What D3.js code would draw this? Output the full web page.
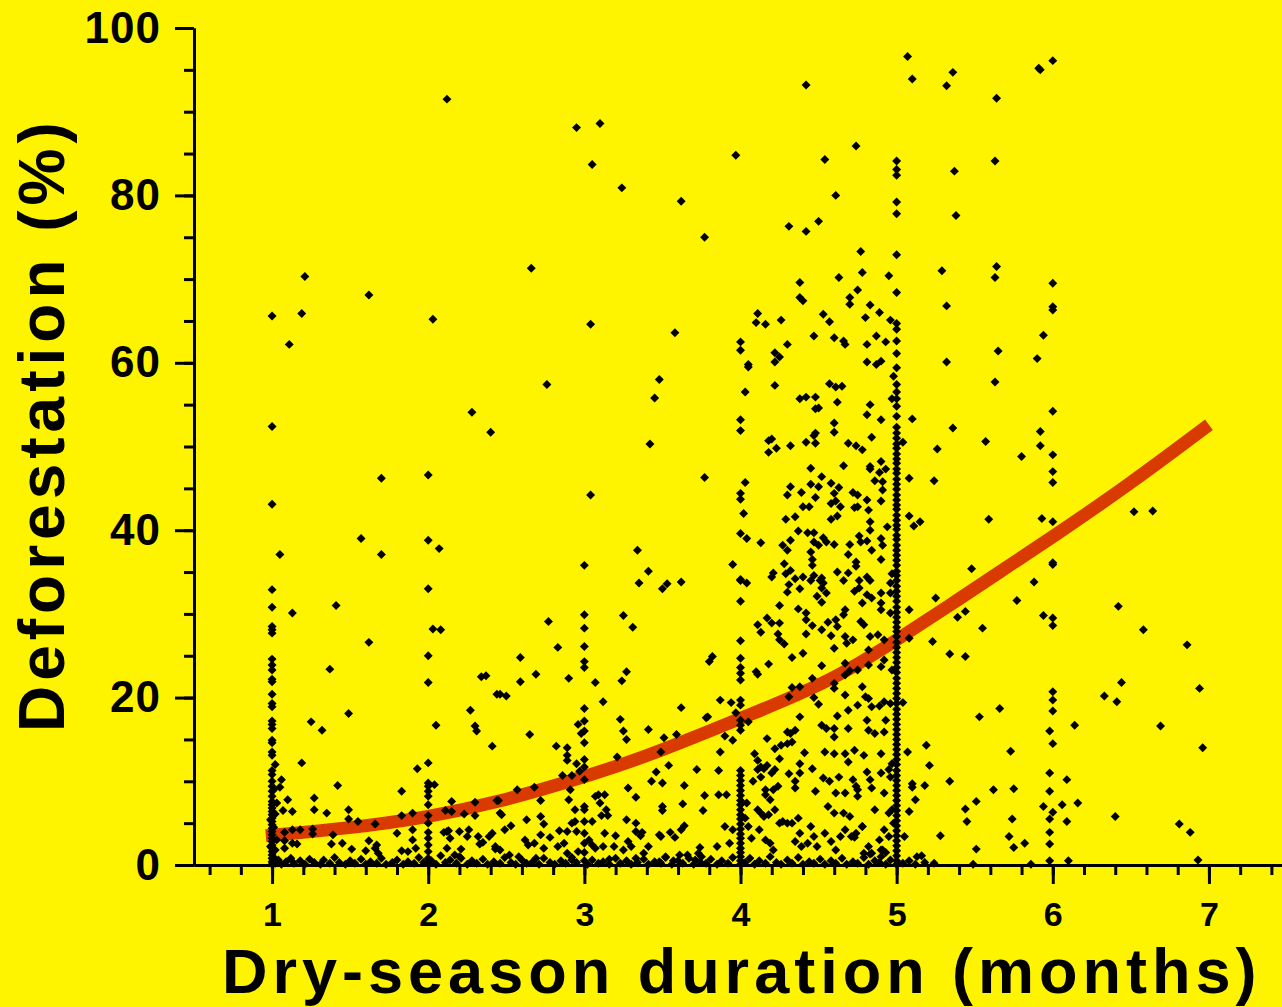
<!DOCTYPE html>
<html>
<head>
<meta charset="utf-8">
<script src="https://cdn.jsdelivr.net/npm/d3@7"></script>
<style>
  body { margin: 0; background: #fff400; }
  svg { display: block; font-family: 'Liberation Sans', Arial, sans-serif; font-weight: bold; }
  .line-path { fill: none; stroke: #d83a00; stroke-width: 13; stroke-linecap: butt; }
</style>
</head>
<body>
<svg width="1282" height="1007"></svg>
<script>
// tick labels
const xTickValues = [1, 2, 3, 4, 5, 6, 7];
const yTickValues = [0, 20, 40, 60, 80, 100];

// points that sit on whole-month columns (y values only)
const col1Y = [65.6, 52.4, 43.1, 32.9, 30.8, 28.5, 28.1, 27.7, 24.6, 23.9, 23.3, 22.2, 21.9, 20.4, 19.3, 18.9, 17.2, 16.8, 16.3, 14.9, 14.6, 13.5, 13.1, 11.3, 10.8, 10.0, 9.4, 8.8, 8.2, 7.6, 7.2, 6.8, 6.4, 6.0, 5.6, 5.2, 4.8, 4.4, 4.0, 3.6, 3.2, 2.8, 2.4, 2.0, 1.6, 1.2, 0.8, 0.4, 0.1];
const col2Y = [46.6, 38.8, 33.0, 25.0, 21.8, 12.2, 9.8, 9.4, 8.8, 8.2, 7.2, 5.9, 5.0, 3.9, 3.2, 2.4, 1.6, 0.8, 0.2];
const col3Y = [35.8, 29.9, 28.3, 26.1, 24.3, 23.6, 18.7, 17.2, 16.0, 14.6, 12.6, 11.7, 10.2, 7.0, 6.6, 5.2, 3.8, 2.6, 1.5, 0.5];
const col4Y = [62.5, 61.5, 53.2, 51.9, 44.4, 43.7, 39.6, 34.1, 34.0, 31.5, 26.8, 24.7, 23.6, 22.9, 22.1, 19.7, 19.1, 17.3, 16.7, 16.1, 11.3, 10.7, 10.1, 9.5, 8.9, 8.3, 7.7, 7.2, 6.6, 6.0, 5.5, 4.9, 4.3, 3.7, 3.2, 2.6, 2.0, 1.5, 1.0, 0.5, 0.1];
const col5Y = [84.1, 83.1, 82.4, 79.2, 77.8, 72.9, 68.4, 64.7, 64.0, 62.6, 61.1, 59.4, 57.4, 56.5, 55.7, 54.8, 53.6, 52.3,
  51.6, 51.0, 50.3, 49.8, 49.1, 48.5, 48.0, 47.3, 46.8, 46.1, 45.5, 44.9, 44.2, 43.6, 43.0, 42.5, 41.8, 41.2, 40.6, 40.1,
  39.4, 38.9, 38.2, 37.6, 37.0, 36.4, 35.8, 35.1, 34.6, 34.0, 33.3, 32.7, 32.1, 31.5, 30.8, 30.2, 29.6, 29.0, 28.4, 27.9,
  27.3, 26.6, 26.0, 25.4, 24.8, 24.2, 23.6, 23.0, 22.3, 21.7, 21.1, 20.5, 19.9, 19.3, 18.6, 18.0, 17.4, 16.8, 16.2, 15.6,
  15.0, 14.4, 13.8, 13.2, 12.6, 12.0, 11.3, 10.7, 10.1, 9.5, 8.9, 8.3, 7.7, 7.1, 6.5, 5.9, 5.3, 4.7, 4.1, 3.5, 2.9, 2.3,
  1.7, 1.1, 0.5, 0.1];
const col6Y = [96.1, 69.5, 66.7, 66.3, 54.2, 49.0, 47.0, 45.7, 41.0, 36.1, 35.9, 29.5, 28.6, 20.7, 19.7, 18.4, 14.5, 6.3];

// scattered points [months, %]
const scatterPts = [
  [2.12,91.5],[2.95,88.1],[3.10,88.6],[3.05,83.7],[3.24,80.9],[3.62,79.3],[3.77,75.0],[2.66,71.3],[1.21,70.3],[1.62,68.1],
  [1.19,65.9],[2.03,65.2],[3.04,64.6],[3.58,63.6],[1.11,62.2],[2.76,57.4],[3.48,58.0],[3.45,55.8],[2.28,54.1],[2.40,51.7],
  [1.70,46.2],[1.57,39.0],[2.07,37.8],[1.05,37.1],[1.70,37.1],[1.13,30.1],[1.41,31.0],
  [1.62,26.6],[1.37,23.4],[1.49,18.1],[1.25,17.1],[1.32,16.1],[1.19,12.2],[1.06,10.2],[1.05,9.3],[1.42,9.5],[1.10,7.8],
  [1.27,8.0],[1.07,6.5],[1.13,6.4],[1.27,6.6],[1.35,6.2],[1.49,6.6],[1.49,5.5],[1.55,5.2],[1.66,4.9],[1.83,8.8],[1.83,5.9],
  [1.90,6.2],[1.93,11.5],[2.03,28.2],[2.08,28.1],[2.05,16.7],[2.04,9.6],[1.08,3.9],[1.13,4.2],[1.18,4.2],[1.26,4.3],
  [1.26,3.7],[1.08,2.9],[1.13,2.6],[1.16,2.5],[1.08,2.0],[1.39,3.6],[1.38,2.5],[1.45,2.6],[1.51,1.9],[1.62,2.9],[1.60,1.7],
  [1.67,2.4],[1.68,1.4],[1.66,2.0],[1.80,3.8],[1.90,4.2],[1.90,3.0],[1.83,1.7],[1.87,1.6],[1.92,2.0],[2.10,3.9],[2.12,2.0],
  [2.13,4.1],[2.15,7.6],[2.15,6.4],[2.11,6.5],[2.12,4.0],[2.14,3.2],[2.20,4.0],[2.26,4.2],[2.25,3.4],[2.30,7.5],[2.30,5.9],
  [2.23,6.1],[2.32,3.4],[2.33,2.5],[2.35,2.7],[2.39,3.4],[2.27,18.5],[2.30,16.6],[2.31,16.0],[2.34,22.5],[2.37,22.6],
  [2.41,14.2],[2.44,20.4],[2.44,7.7],[2.21,1.9],[2.17,1.2],[2.20,1.0],[2.43,1.9],
  [1.01,9.0],[1.02,6.1],[1.01,4.5],[1.03,3.0],[1.02,1.8],[1.01,0.9],[0.99,5.4],[0.99,2.2],[1.02,12.0],[1.03,7.4],
  [3.42,50.3],[3.77,46.3],[3.04,44.2],[3.34,37.6],[3.41,35.1],[3.35,33.7],[3.50,33.0],[3.53,33.6],[3.62,33.8],[2.77,29.1],
  [3.25,29.8],[3.31,28.4],[2.83,26.0],[2.59,24.8],[2.69,22.8],[2.59,21.9],[2.90,22.3],[3.07,21.8],[3.24,22.0],[3.27,23.1],
  [2.46,20.4],[2.50,20.2],[3.12,19.5],[3.62,18.8],[3.80,24.3],[2.96,16.8],[2.98,15.7],[3.23,17.4],[3.25,16.0],[3.27,15.0],
  [3.41,16.2],[2.65,15.6],[2.82,14.2],[2.89,14.0],[2.89,13.1],[2.89,12.5],[2.95,12.1],[3.21,12.9],[3.59,15.6],[3.51,15.2],
  [3.49,13.5],[3.78,17.6],[3.54,11.9],[3.46,11.1],[3.43,10.0],[3.50,9.8],[3.72,11.4],[3.64,9.5],[3.77,8.3],[3.76,6.5],
  [3.63,7.3],[3.50,7.0],[3.50,6.5],[2.86,10.7],[2.92,10.7],[2.97,11.2],[2.57,9.0],[2.68,9.3],[2.91,9.0],[2.72,7.7],
  [2.90,7.8],[2.45,7.7],[2.46,6.2],[2.47,6.0],[3.07,8.2],[3.09,8.4],[3.13,8.4],[3.10,7.4],[3.28,9.2],[3.33,8.1],[2.94,6.6],
  [3.11,5.9],[3.14,6.6],[3.15,5.9],[3.27,5.4],[3.33,5.0],[2.63,5.4],[2.72,5.8],[2.74,4.9],[2.53,4.7],[2.49,4.2],[2.41,3.8],
  [2.84,4.1],[2.92,5.0],[2.94,5.2],[3.05,5.2],[3.13,3.8],[3.20,3.5],[3.33,4.0],[3.37,3.9],[3.36,3.5],[3.48,3.6],[3.49,3.4],
  [3.55,3.9],[3.58,3.3],[3.62,4.2],[3.64,4.7],[3.74,2.1],[3.73,1.4],[3.41,2.2],[3.61,1.2],[2.89,4.0],[2.95,4.0],
  [2.43,2.2],[2.46,1.8],[2.62,3.0],[2.64,2.4],[2.68,2.6],[2.72,3.6],[2.74,2.0],[2.78,3.3],[2.83,2.2],[2.87,2.6],[2.89,1.4],
  [2.96,1.6],[3.03,3.0],[3.05,2.4],[3.07,2.0],[3.12,2.2],[3.19,2.2],[3.25,1.8],[3.28,2.8],[3.30,2.2],[3.38,1.4],[3.52,1.0],
  [3.66,1.2],[3.75,1.0],[2.58,1.0],[2.52,1.2],[2.69,0.8],[2.92,0.6],[3.16,0.7],[3.33,0.8],[3.48,0.4],[3.57,0.5],[3.71,0.6],
  [4.38,69.6],[4.38,67.8],[4.40,67.4],[4.75,68.7],[4.70,67.8],[4.70,67.0],[4.83,66.9],[5.32,66.8],[4.11,65.9],[4.10,64.8],
  [4.16,64.6],[4.26,65.1],[4.53,65.8],[4.57,64.9],[4.80,65.4],[4.89,66.0],[4.96,65.1],[4.98,58.4],[4.30,62.2],[4.22,61.2],
  [4.25,60.7],[4.22,60.1],[4.05,59.8],[4.05,59.5],[4.47,63.2],[4.60,63.0],[4.66,62.6],[4.67,62.2],[4.81,62.2],[4.81,60.1],
  [4.87,63.2],[4.93,62.5],[4.87,59.8],[4.90,60.2],[4.03,56.5],[4.22,57.3],[4.38,55.7],[4.42,55.9],[4.48,55.9],[4.48,54.5],
  [4.50,54.6],[4.57,57.5],[4.61,57.1],[4.65,57.2],[4.62,55.3],[4.83,55.0],[4.81,53.8],[4.90,53.2],[4.97,55.7],[5.32,60.1],
  [5.10,53.3],[5.36,52.2],[5.26,49.7],[4.60,52.8],[4.60,51.7],[4.47,51.3],[4.48,51.6],[4.20,50.9],[4.18,50.7],[4.23,49.8],
  [4.18,49.3],[4.32,50.1],[4.42,50.5],[4.48,50.4],[4.69,50.4],[4.74,50.1],[4.78,49.6],[4.84,51.1],[5.04,50.5],[4.66,47.7],
  [4.45,47.4],[4.03,45.7],[4.32,45.2],[4.30,44.2],[4.39,44.5],[4.45,45.5],[4.50,45.2],[4.52,46.4],[4.48,43.9],[4.58,45.6],
  [4.60,44.4],[4.63,45.1],[4.61,43.5],[4.58,43.2],[4.72,44.5],[4.75,44.2],[4.73,42.7],[4.75,42.8],[4.81,43.6],[4.82,42.4],
  [4.90,43.5],[4.86,45.9],[4.91,45.8],[4.91,44.8],[4.83,47.6],[4.83,47.3],[4.89,46.9],[4.93,47.3],[4.90,48.2],[5.08,46.2],
  [5.24,45.9],[4.40,42.8],[4.44,42.8],[4.64,42.8],[4.02,42.0],[4.29,41.3],[4.35,41.6],[4.58,41.3],[4.62,41.7],[4.83,41.0],
  [4.83,40.0],[4.94,40.4],[5.08,41.7],[5.11,40.5],[5.15,41.0],[4.04,39.0],[4.13,38.5],[4.37,39.9],[4.43,39.7],[4.47,39.7],
  [4.32,38.8],[4.27,38.2],[4.30,37.6],[4.47,38.6],[4.50,38.2],[4.53,39.1],[4.55,38.6],[4.60,38.3],[4.70,38.3],[4.76,39.3],
  [4.77,38.6],[4.81,38.7],[4.84,37.6],[4.90,39.0],[4.91,38.2],[4.45,37.4],[4.46,36.5],[4.46,35.8],[4.28,36.0],[4.69,37.1],
  [4.74,36.2],[4.74,35.7],[4.90,36.5],[3.95,35.9],[4.20,34.4],[4.21,34.9],[4.29,34.8],[4.32,35.2],[4.40,34.4],[4.47,34.6],
  [4.52,34.3],[4.62,35.0],[4.69,34.9],[4.81,34.4],[4.97,34.8],
  [5.07,96.6],[5.10,93.9],[5.36,94.7],[5.32,93.1],[5.64,91.6],[4.42,93.2],[4.74,85.9],[3.97,84.8],[4.54,84.3],[5.37,82.9],
  [5.63,84.1],[4.61,80.0],[5.38,77.6],[4.31,76.3],[4.42,75.7],[4.50,76.9],[4.77,73.3],[4.78,70.8],[4.63,70.2],[4.95,70.4],
  [5.29,71.0],[5.64,71.5],[5.63,70.2],[5.91,95.2],[5.92,95.0],[5.94,63.3],[5.65,61.4],[5.90,60.5],[5.63,57.7],[5.92,51.8],
  [5.57,50.6],[5.92,50.1],
  [5.80,48.8],[5.59,41.3],[5.93,41.4],[6.52,42.2],[6.64,42.3],[5.48,35.4],[5.88,33.8],[5.25,31.9],[5.77,31.6],[5.08,30.5],
  [5.39,29.6],[5.44,30.3],[5.94,29.8],[6.42,30.9],[5.55,28.3],[6.58,28.1],[6.86,26.3],[5.08,27.1],[5.23,26.7],[5.34,25.2],
  [5.44,24.9],[6.44,21.8],[6.33,20.2],[6.41,19.5],[6.94,21.1],[5.04,19.4],[5.66,18.7],[5.53,17.7],[6.14,16.7],[6.69,16.6],
  [5.98,16.0],[6.96,14.0],[5.19,14.3],[5.07,13.5],[5.73,13.6],[5.21,11.9],[5.10,9.7],[5.10,9.3],[5.18,9.5],[5.34,10.0],
  [5.12,7.8],[5.08,6.4],[5.05,3.4],[5.13,1.0],[5.16,1.1],[5.28,3.5],[5.44,6.7],[5.45,5.2],[5.51,7.6],[5.51,1.9],[5.62,9.0],
  [5.75,9.1],[5.74,5.5],[5.72,3.4],[5.75,2.1],[5.82,2.6],[5.86,0.1],[5.49,0.1],[5.98,11.0],[5.98,8.8],[5.94,7.0],[6.06,7.2],
  [5.98,5.5],[6.09,5.2],[6.09,10.2],[6.16,7.4],[5.98,3.9],[5.98,2.5],[5.98,0.5],[6.10,0.5],[6.40,5.8],[6.81,4.9],[6.88,3.9],
  [6.93,0.6],[4.73,3.3],[4.78,4.6],[4.83,1.3],[4.90,1.8],[4.93,1.5],[4.90,1.0],
  [4.04,33.7],[4.35,34.2],[4.31,33.5],[4.38,33.0],[4.30,32.6],[4.45,34.0],[4.51,34.0],[4.53,33.7],[4.52,33.1],[4.55,32.5],
  [4.49,32.1],[4.52,31.4],[4.66,34.0],[4.76,34.0],[4.76,33.1],[4.73,32.7],[4.78,31.3],[4.83,34.0],[4.81,32.3],[4.84,31.9],
  [4.90,32.5],[4.90,31.3],[4.90,30.5],[4.96,33.7],[4.96,32.5],[4.96,30.1],[4.37,30.6],[4.42,30.1],[4.42,29.3],[4.25,31.0],
  [4.25,28.9],[4.11,28.7],[4.13,27.8],[4.17,29.5],[4.20,28.9],[4.24,27.6],[4.25,26.9],[4.28,26.4],[4.46,28.6],[4.52,28.1],
  [4.56,29.0],[4.61,29.3],[4.66,29.9],[4.67,30.5],[4.58,27.4],[4.62,28.5],[4.67,27.3],[4.68,26.5],[4.72,26.9],[4.77,29.1],
  [4.79,28.7],[4.83,27.3],[4.88,27.5],[4.92,26.9],[3.82,24.9],[4.10,23.1],[4.11,22.8],[4.18,24.0],[4.33,24.8],[4.40,25.3],
  [4.42,27.6],[4.52,23.8],[4.60,25.9],[4.67,24.1],[4.67,22.7],[4.70,23.2],[4.75,23.3],[4.82,23.9],[4.90,23.7],[4.92,24.5],
  [4.82,25.7],[4.97,23.3],[3.87,19.7],[3.79,17.7],[3.94,19.4],[3.97,18.2],[3.95,14.9],[3.90,15.4],[4.05,17.1],[4.31,20.1],
  [4.33,21.2],[4.38,21.3],[4.46,22.3],[4.47,20.0],[4.50,19.2],[4.38,17.7],[4.60,21.7],[4.60,21.1],[4.67,20.3],[4.69,18.5],
  [4.62,17.8],[4.75,19.1],[4.78,21.3],[4.80,20.1],[4.82,19.9],[4.84,18.9],[4.89,19.0],[4.92,19.5],[4.96,19.3],[4.93,17.3],
  [4.81,17.3],[4.82,16.1],[4.86,15.7],[4.92,15.9],[4.52,16.7],[4.55,16.3],[4.60,16.3],[4.60,15.3],[4.69,16.3],[4.30,15.9],
  [4.32,15.7],[4.35,16.1],[4.17,15.1],[3.87,13.5],[3.86,11.3],[4.09,13.3],[4.11,12.5],[4.13,11.7],[4.15,11.5],[4.17,11.9],
  [4.20,11.0],[4.22,11.4],[4.25,12.7],[4.22,13.9],[4.26,14.3],[4.30,14.5],[4.33,14.7],[4.41,13.4],[4.38,12.1],[4.38,11.0],
  [4.31,10.9],[4.35,10.0],[4.35,9.2],[4.46,11.5],[4.48,8.8],[4.53,10.4],[4.54,13.5],[4.57,10.0],[4.60,13.3],[4.61,8.6],
  [4.63,10.5],[4.67,13.3],[4.67,8.6],[4.69,12.3],[4.72,10.2],[4.73,13.7],[4.74,9.4],[4.75,9.0],[4.75,8.2],[4.79,13.1],
  [4.81,11.1],[4.83,10.2],[4.84,9.2],[4.90,13.3],[4.90,11.0],[4.92,8.6],[4.95,11.4],[4.96,10.5],[4.97,12.1],[4.11,11.4],
  [4.13,10.5],[4.08,10.0],[4.16,9.0],[4.16,8.4],[4.21,9.0],[4.24,9.4],[4.19,7.8],[4.22,6.6],[4.27,5.2],[3.86,8.4],[3.91,8.4],
  [3.90,4.6],[3.95,4.2],[3.93,2.6],[3.85,2.2],[4.04,7.4],[4.03,5.6],[4.05,4.6],[4.07,3.2],[4.11,6.6],[4.13,6.2],[4.15,5.8],
  [4.18,6.0],[4.12,4.2],[4.16,3.0],[4.19,2.6],[4.21,1.8],[4.25,5.0],[4.30,5.0],[4.33,5.0],[4.37,5.6],[4.38,3.8],[4.35,2.8],
  [4.39,2.2],[4.43,2.6],[4.45,4.6],[4.47,3.4],[4.49,2.2],[4.54,3.8],[4.56,7.0],[4.58,2.8],[4.60,6.2],[4.61,1.8],[4.64,3.4],
  [4.67,4.2],[4.66,6.2],[4.70,5.8],[4.71,3.4],[4.74,3.8],[4.78,4.6],[4.79,1.4],[4.82,2.2],[4.84,1.4],[4.86,6.6],[4.89,3.0],
  [4.91,1.8],[4.92,4.2],[4.95,6.2],[4.97,6.6],[4.98,5.0],[4.95,3.4]
];

// the band of points lying on the x axis
const floorPts = [
  [1.02,0.2],[1.04,0.6],[1.06,0.1],[1.09,0.4],[1.12,0.8],[1.14,0.2],[1.18,0.5],[1.21,0.1],[1.24,0.7],[1.27,0.3],[1.31,0.1],
  [1.33,0.6],[1.37,0.2],[1.40,0.9],[1.43,0.3],[1.47,0.1],[1.50,0.5],[1.53,0.2],[1.57,0.7],[1.60,0.1],[1.63,0.4],[1.67,0.2],
  [1.70,0.8],[1.73,0.1],[1.77,0.3],[1.80,0.6],[1.84,0.1],[1.87,0.4],[1.91,0.2],[1.94,0.9],[1.97,0.3],[2.02,0.5],[2.05,0.1],
  [2.08,1.1],[2.11,0.3],[2.14,0.6],[2.18,0.2],[2.21,0.8],[2.25,0.1],[2.28,0.5],[2.31,0.2],[2.35,0.7],[2.38,0.1],[2.42,0.4],
  [2.46,0.2],[2.49,0.9],[2.53,0.3],[2.56,0.1],[2.60,0.6],[2.63,0.2],[2.67,0.4],[2.71,0.1],[2.74,0.8],[2.78,0.3],[2.81,0.1],
  [2.85,0.5],[2.88,0.2],[2.92,0.9],[2.95,0.3],[3.02,0.1],[3.05,0.6],[3.09,0.2],[3.12,0.4],[3.16,0.1],[3.20,0.8],[3.23,0.2],
  [3.27,0.5],[3.30,0.1],[3.34,0.3],[3.38,0.7],[3.41,0.1],[3.45,0.4],[3.49,0.2],[3.52,0.9],[3.56,0.1],[3.60,0.5],[3.63,0.2],
  [3.67,0.8],[3.70,0.1],[3.74,0.4],[3.78,0.2],[3.81,0.7],[3.85,0.1],[3.88,0.5],[3.92,0.2],[3.95,0.9],[4.03,0.3],[4.06,0.8],
  [4.09,0.1],[4.12,0.5],[4.16,0.2],[4.19,1.0],[4.23,0.3],[4.26,0.1],[4.30,0.6],[4.33,0.2],[4.37,0.9],[4.40,0.1],[4.44,0.4],
  [4.47,0.2],[4.51,0.7],[4.54,0.1],[4.58,0.5],[4.61,0.2],[4.65,0.8],[4.68,0.1],[4.72,0.4],[4.75,0.2],[4.79,0.9],[4.82,0.1],
  [4.86,0.5],[4.89,0.3],[4.93,0.1],[4.96,0.6],[5.04,0.2],[5.08,0.5],[5.12,0.1],[5.18,0.3],[5.24,0.2]
];

// fitted curve
const fitX = [0.96, 1.5, 2.0, 2.45, 3.0, 3.4, 3.8, 4.0, 4.59, 5.0, 5.33, 5.65, 6.0, 6.5, 7.0];
const fitY = [3.5, 4.4, 5.7, 7.5, 10.5, 13.0, 16.0, 17.5, 22.0, 26.9, 30.9, 34.9, 39.2, 45.6, 52.6];

const svg = d3.select('svg');
const width = +svg.attr('width');
const height = +svg.attr('height');

const render = () => {
    const xAxisLabel = 'Dry-season duration (months)';
    const yAxisLabel = 'Deforestation (%)';

    const columns = [col1Y, col2Y, col3Y, col4Y, col5Y, col6Y];
    const points = [];
    columns.forEach((ys, i) => ys.forEach(y => points.push([i + 1, y])));
    scatterPts.forEach(p => points.push(p));
    floorPts.forEach(p => points.push(p));

    const fit = fitX.map((x, i) => [x, fitY[i]]);

    svg.append('rect')
        .attr('width', width)
        .attr('height', height)
        .attr('fill', '#fff400');

    const xScale = d3.scaleLinear()
        .domain([0.5, 7.5])
        .range([194, 1287]);

    const yScale = d3.scaleLinear()
        .domain([0, 100])
        .range([865, 28]);

    // curve under the points
    const lineGenerator = d3.line()
        .x(d => xScale(d[0]))
        .y(d => yScale(d[1]))
        .curve(d3.curveBasis);

    svg.append('path')
        .attr('class', 'line-path')
        .attr('d', lineGenerator(fit));

    const diamond = d3.symbol(d3.symbolSquare, 40);
    svg.append('g').selectAll('path').data(points)
        .enter().append('path')
            .attr('d', diamond)
            .attr('transform', d => `translate(${xScale(d[0])},${yScale(d[1])}) rotate(45)`)
            .attr('fill', 'black');

    // y axis: minor then major
    const yMinor = d3.axisLeft(yScale)
        .tickValues(d3.range(0, 101, 5))
        .tickSize(10)
        .tickSizeOuter(0)
        .tickFormat('');
    const yMinorG = svg.append('g').attr('transform', 'translate(194,0)').call(yMinor);

    const yAxis = d3.axisLeft(yScale)
        .tickValues(yTickValues)
        .tickSize(19)
        .tickSizeOuter(0)
        .tickPadding(14);
    const yAxisG = svg.append('g').attr('transform', 'translate(194,0)').call(yAxis);

    const xMinor = d3.axisBottom(xScale)
        .tickValues(d3.range(0.6, 7.5, 0.2))
        .tickSize(10)
        .tickSizeOuter(0)
        .tickFormat('');
    const xMinorG = svg.append('g').attr('transform', 'translate(0,865)').call(xMinor);

    const xAxis = d3.axisBottom(xScale)
        .tickValues(xTickValues)
        .tickFormat(d3.format('d'))
        .tickSize(19)
        .tickSizeOuter(0)
        .tickPadding(18);
    const xAxisG = svg.append('g').attr('transform', 'translate(0,865)').call(xAxis);

    [yMinorG, yAxisG, xMinorG, xAxisG].forEach(g => {
        g.selectAll('path, line')
            .attr('stroke', 'black')
            .attr('stroke-width', 3);
    });

    yAxisG.selectAll('text')
        .attr('font-family', "'Liberation Sans', Arial, sans-serif")
        .attr('font-weight', 'bold')
        .attr('font-size', 44)
        .attr('letter-spacing', 1)
        .attr('fill', 'black');

    xAxisG.selectAll('text')
        .attr('font-family', "'Liberation Sans', Arial, sans-serif")
        .attr('font-weight', 'bold')
        .attr('font-size', 34)
        .attr('fill', 'black');

    svg.append('text')
        .attr('x', 222)
        .attr('y', 993)
        .attr('font-size', 63)
        .attr('letter-spacing', 5)
        .attr('fill', 'black')
        .text(xAxisLabel);

    svg.append('text')
        .attr('transform', 'translate(64,732) rotate(-90)')
        .attr('font-size', 64)
        .attr('letter-spacing', 5)
        .attr('fill', 'black')
        .text(yAxisLabel);
};

render();
</script>
</body>
</html>
